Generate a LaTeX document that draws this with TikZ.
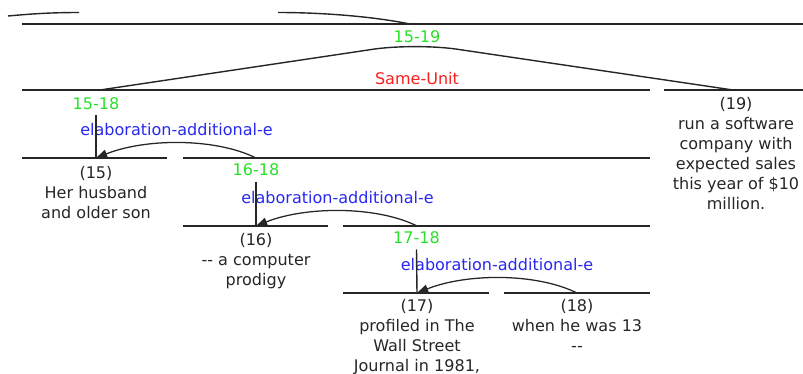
\documentclass[tikz,border=0pt]{standalone}
\usepackage{fontspec}
\setmainfont{DejaVu Sans}
\usetikzlibrary{arrows.meta}
\definecolor{rangegreen}{RGB}{40,225,40}
\definecolor{relred}{RGB}{250,30,30}
\definecolor{relblue}{RGB}{40,40,240}

\begin{document}
\begin{tikzpicture}[%
    x=0.025cm, y=-0.025cm,
    >={Triangle[length=8pt,width=6pt]},
    span/.style={line width=1pt, black!85},
    elabarc/.style={->, line width=0.9pt, black!85},
    txt/.style={inner sep=0pt, font=\fontsize{11.4}{14.2}\selectfont},
    rangelab/.style={txt, text=rangegreen},
    relname/.style={txt, text=relred},
    elabname/.style={txt, text=relblue},
    edu/.style={txt, align=center, anchor=north, text=black!85},
  ]
  \useasboundingbox (0,0) rectangle (803,374);

  % --- arcs from the parent above (cut off) ---
  \coordinate (upa) at (8,16);
  \coordinate (upb) at (79,12.5);
  \coordinate (upc) at (278,12.5);
  \coordinate (upd) at (410,24);
  \draw[span] (upa) .. controls (30,14) and (50,12.5) .. (upb);
  \draw[span] (upc) .. controls (320,12.5) and (370,16) .. (upd);

  % --- span lines ---
  \draw[span] (22,24) -- (803,24);
  \draw[span] (22,90) -- (650,90);
  \draw[span] (664,90) -- (803,90);
  \draw[span] (22,158) -- (167,158);
  \draw[span] (183,158) -- (650,158);
  \draw[span] (183,226) -- (328,226);
  \draw[span] (343,226) -- (650,226);
  \draw[span] (343,293) -- (489,293);
  \draw[span] (504,293) -- (650,293);

  % --- labels ---
  \node[rangelab] (r1519) at (417,36.5) {15-19};
  \node[relname] (same) at (417,78.5) {Same-Unit};
  \node[rangelab] (r1518) at (96,103.5) {15-18};
  \node[elabname] (elab1) at (176.5,130) {elaboration-additional-e};
  \node[rangelab] (r1618) at (256,170) {16-18};
  \node[elabname] (elab2) at (337.5,197.5) {elaboration-additional-e};
  \node[rangelab] (r1718) at (416.5,237.5) {17-18};
  \node[elabname] (elab3) at (497,264.5) {elaboration-additional-e};

  % --- text segments ---
  \node[edu] (e15) at (96,166) {(15)\\Her husband\\and older son};
  \node[edu] (e16) at (256,233) {(16)\\-{}- a computer\\prodigy};
  \node[edu] (e17) at (417,299) {(17)\\profiled in The\\Wall Street\\Journal in 1981,};
  \node[edu] (e18) at (577,299) {(18)\\when he was 13\\-{}-};
  \node[edu] (e19) at (736,97) {(19)\\run a software\\company with\\expected sales\\this year of \$10\\million.};

  % --- Same-Unit ---
  \coordinate (s1518) at (100,90);
  \coordinate (s1519) at (415,43);
  \coordinate (s19) at (733,90);
  \draw[span, rounded corners=30pt] (s1518) -- (s1519) -- (s19);

  % --- heads and elaboration arrows ---
  \coordinate (head15) at (96,158);
  \coordinate (head16) at (256,226);
  \coordinate (head17) at (417,293);
  \coordinate (top1618) at (256,158);
  \coordinate (top1718) at (417,226);
  \coordinate (top18) at (577,293);

  \draw[span] ([yshift=-4pt]r1518.south) -- (head15);
  \draw[span] ([yshift=-4pt]r1618.south) -- (head16);
  \draw[span] ([yshift=-4pt]r1718.south) -- (head17);

  \draw[elabarc] (top1618) .. controls +(-40,-20) and +(50,-20) .. (head15);
  \draw[elabarc] (top1718) .. controls +(-40,-20) and +(50,-20) .. (head16);
  \draw[elabarc] (top18) .. controls +(-40,-20) and +(50,-20) .. (head17);
\end{tikzpicture}
\end{document}
